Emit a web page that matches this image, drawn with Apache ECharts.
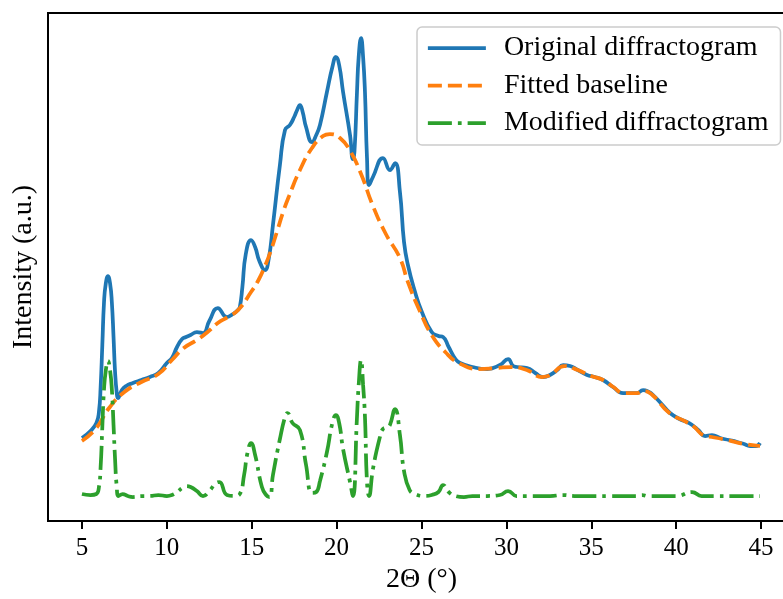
<!DOCTYPE html>
<html>
<head>
<meta charset="utf-8">
<script src="https://cdn.jsdelivr.net/npm/echarts@6/dist/echarts.min.js"></script>
<style>
  html, body { margin: 0; padding: 0; background: #fff; overflow: hidden; }
  /* the plot frame runs slightly past the right edge of the window */
  #chart { width: 795px; height: 599px; }
</style>
</head>
<body>
<div id="chart"></div>
<script>
// 2Θ positions (degrees) and intensities (a.u.) of the measured pattern
const originalX = [5.0,5.5,5.85,6.0,6.1,6.2,6.3,6.4,6.53,6.66,6.76,6.86,6.95,7.05,7.12,7.35,7.6,8.0,8.5,9.0,9.5,10.0,10.3,10.6,10.9,11.13,11.4,11.77,12.13,12.5,13.0,13.54,13.9,14.19,14.3,14.45,14.65,14.96,15.2,15.45,15.78,16.0,16.25,16.66,16.96,17.25,17.5,17.65,17.84,18.0,18.2,18.55,18.8,19.02,19.43,19.75,19.96,20.15,20.38,20.79,20.96,21.05,21.2,21.3,21.44,21.56,21.67,21.79,21.91,22.14,22.73,23.14,23.44,23.73,23.97,24.2,24.62,25.0,25.6,26.0,26.27,26.6,27.0,27.27,28.0,28.86,29.62,30.1,30.4,30.63,31.22,31.7,32.16,32.57,33.0,33.34,33.75,34.2,34.75,35.2,35.69,36.28,36.87,37.7,38.05,38.4,38.64,39.2,39.64,40.2,40.64,40.94,41.3,41.7,42.11,42.59,43.1,43.59,44.0,44.35,44.7,44.94];
const originalY = [59,66,74,85,110,152,195,213,221,213,195,160,125,104,99,107,111,114,117,120,124,134,139,150,158,160,162,165,164,176,189,180,183,187,190,210,243,257,250,236,227,238,272,332,367,372,380,386,392,385,370,355,362,372,405,430,440,432,405,362,338,345,405,440,459,440,405,339,312,320,339,327,334,305,255,232,205,186,165,161,160,150,138,134,130,128,132,138,131,130,129,124,120,122,127,132,131,127,122,120,117,110,104,104,107,105,102,92,84,78,75,72,67,61,62,59,57,55,53,51,51,54];

// Smooth background fitted under the pattern
const baselineX = [5.0,5.8,6.6,7.5,8.5,9.5,10.3,11.0,11.77,12.4,13.0,13.6,14.2,14.96,15.4,15.78,16.1,16.5,16.85,17.2,17.84,18.55,19.2,19.6,20.2,20.8,21.44,22.14,22.9,23.73,24.2,24.9,25.6,26.4,27.2,28.4,29.4,30.3,31.2,32.1,32.6,33.4,34.2,35.0,35.7,36.3,36.9,37.7,38.1,38.6,39.6,40.6,41.0,41.7,42.1,43.0,44.0,44.94];
const baselineY = [56,68,89,105,115,123,137,149,157,165,174,180,187,205,217,231,245,266,285,301,327,349,361,363,359,346,323,291,263,239,215,186,162,145,134,128,129,130,127,120,122,131,127,121,117,110,104,104,106,102,84,75,71,61,60,57,53,51];

// Pattern after the baseline has been removed
const modifiedX = [5.0,5.5,5.85,6.0,6.1,6.2,6.3,6.4,6.53,6.66,6.76,6.86,6.95,7.05,7.15,7.4,7.7,8.0,8.5,9.0,9.5,10.0,10.3,10.6,10.9,11.13,11.4,11.77,12.13,12.5,12.9,13.1,13.54,14.0,14.3,14.55,14.75,14.96,15.2,15.6,15.85,16.05,16.25,16.66,16.96,17.1,17.4,17.84,18.2,18.55,18.8,19.02,19.43,19.75,19.96,20.15,20.38,20.79,20.96,21.2,21.3,21.44,21.56,21.67,21.79,21.91,22.14,22.55,22.73,23.0,23.14,23.44,23.73,23.97,24.3,24.62,25.2,25.6,26.0,26.27,26.6,27.0,27.5,28.0,28.86,29.62,30.1,30.6,31.2,32.16,32.57,33.34,34.0,35.0,36.0,36.87,37.7,38.0,38.3,40.0,40.94,41.5,42.5,43.5,44.94];
const modifiedY = [3,2,3,10,30,70,108,126,136,126,108,72,38,10,1,3,1,0,1,1,2,1,2,5,9,11,10,6,1,6,14,15,2,1,3,22,44,54,42,10,2,0,22,58,80,84,74,67,32,4,5,16,45,74,82,74,48,15,1,80,112,137,112,80,15,1,28,60,68,70,72,88,62,26,7,3,1,2,5,12,5,1,0,1,1,2,6,1,1,1,1,2,1,1,1,1,1,2,1,1,5,1,1,1,1];

const xTicks = [5, 10, 15, 20, 25, 30, 35, 40, 45];
const seriesNames = ['Original diffractogram', 'Fitted baseline', 'Modified diffractogram'];
const seriesColors = ['#1f77b4', '#ff7f0e', '#2ca02c'];
const dashPatterns = ['solid', [14, 6], [24, 6, 3.75, 6]];

const pairs = (xs, ys) => xs.map((x, i) => [x, ys[i]]);
const serif = "'Liberation Serif', 'DejaVu Serif', serif";
const lineWidth = 3.75;

const chart = echarts.init(document.getElementById('chart'), null, { renderer: 'canvas' });

const seriesData = [pairs(originalX, originalY), pairs(baselineX, baselineY), pairs(modifiedX, modifiedY)];

chart.setOption({
  animation: false,
  backgroundColor: '#ffffff',
  grid: {
    left: 48, top: 13, right: 0, bottom: 78,
    show: true, borderColor: '#000', borderWidth: 2, backgroundColor: 'transparent'
  },
  legend: {
    orient: 'vertical',
    left: 417, top: 27,
    padding: [7, 12, 8, 9],
    itemGap: 9.5,
    itemWidth: 58, itemHeight: 14,
    backgroundColor: 'rgba(255,255,255,0.8)',
    borderColor: '#cccccc', borderWidth: 1.5, borderRadius: 5,
    textStyle: { fontFamily: serif, fontSize: 28, color: '#000', lineHeight: 28, padding: [0, 0, 0, 13] },
    data: seriesNames.map((name, i) => ({
      name: name,
      itemStyle: { opacity: 0 },
      lineStyle: { color: seriesColors[i], width: lineWidth, type: dashPatterns[i] }
    }))
  },
  xAxis: {
    type: 'value',
    min: 3, max: 47,
    name: '2Θ (°)',
    nameLocation: 'middle',
    nameGap: 45,
    nameTextStyle: { fontFamily: serif, fontSize: 28, color: '#000' },
    axisLine: { show: true, onZero: false, lineStyle: { color: '#000', width: 2 } },
    axisTick: { show: true, customValues: xTicks, length: 8, lineStyle: { color: '#000', width: 2 } },
    axisLabel: { customValues: xTicks, margin: 15, fontFamily: serif, fontSize: 25, color: '#000' },
    splitLine: { show: false }
  },
  yAxis: {
    type: 'value',
    min: -24, max: 484,
    name: 'Intensity (a.u.)',
    nameLocation: 'middle',
    nameRotate: 90,
    nameGap: 10,
    nameTextStyle: { fontFamily: serif, fontSize: 28, color: '#000' },
    axisLine: { show: true, onZero: false, lineStyle: { color: '#000', width: 2 } },
    axisTick: { show: false },
    axisLabel: { show: false },
    splitLine: { show: false }
  },
  series: seriesNames.map((name, i) => ({
    name: name,
    type: 'line',
    data: seriesData[i],
    symbol: 'none',
    smooth: 0.5,
    lineStyle: { color: seriesColors[i], width: lineWidth, type: dashPatterns[i] },
    itemStyle: { color: seriesColors[i] },
    z: 2 + i
  }))
});
</script>
</body>
</html>
